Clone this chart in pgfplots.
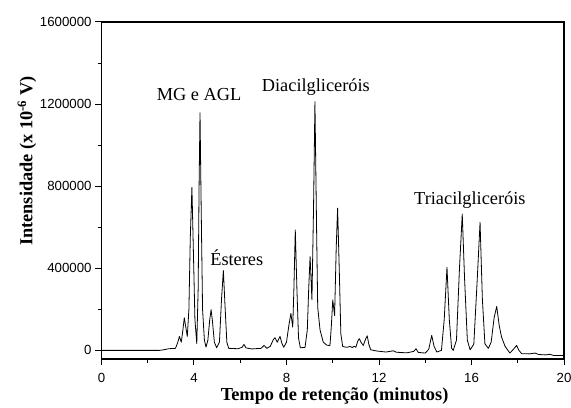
\documentclass[border=0pt]{standalone}
\usepackage{pgfplots}
\pgfplotsset{compat=1.18}
\usepackage{fontspec}
\setmainfont{Liberation Serif}
\newfontfamily\arial{Liberation Sans}
\begin{document}
\begin{tikzpicture}
\useasboundingbox (-101.5bp,-49bp) rectangle (469.5bp,359bp);
\begin{axis}[
  at={(0,0)}, anchor=south west,
  scale only axis, width=462.5bp, height=337bp,
  xmin=0, xmax=20, ymin=-42000, ymax=1600000,
  xtick={0,4,8,12,16,20}, minor xtick={2,6,10,14,18},
  ytick={0,400000,800000,1200000,1600000}, minor ytick={200000,600000,1000000,1400000},
  scaled y ticks=false,
  yticklabel style={/pgf/number format/fixed,/pgf/number format/1000 sep={}},
  xticklabel style={yshift=-4bp},
  xtick pos=bottom, ytick pos=left, tick align=outside,
  major tick length=6bp, minor tick length=3.5bp,
  every axis/.append style={line width=1.3bp},
  every tick/.style={black, line width=1bp},
  /pgf/number format/assume math mode=true,
  ticklabel style={font=\arial\fontsize{13.3}{15}\selectfont},
  xlabel={\textbf{Tempo de retenção (minutos)}},
  ylabel={\textbf{Intensidade (x 10\textsuperscript{-6} V)}},
  label style={font=\fontsize{18.4}{20}\selectfont},
  xlabel style={at={(axis description cs:0.504,-0.11)}, anchor=center},
  ylabel style={at={(axis description cs:-0.161,0.5875)}, anchor=center},
]
\addplot[black, line width=0.8bp, line join=round] coordinates {
(0,0) (2.5,0) (2.7,3000) (2.9,8000) (3.2,10000) (3.3,40000) (3.37,68000) (3.45,40000)
(3.52,100000) (3.58,159000) (3.65,110000) (3.71,68000) (3.78,200000) (3.84,550000)
(3.91,794000) (3.97,500000) (4.04,150000) (4.12,32000) (4.18,300000) (4.22,800000)
(4.26,1158000) (4.31,700000) (4.37,200000) (4.45,50000) (4.52,16000) (4.6,50000)
(4.68,150000) (4.74,198000) (4.8,140000) (4.88,40000) (4.98,13000) (5.1,40000)
(5.19,250000) (5.27,389000) (5.34,220000) (5.42,40000) (5.5,10000) (5.9,8000)
(6.08,15000) (6.16,29000) (6.25,12000) (6.5,7000) (6.9,10000) (7.03,24000) (7.15,10000)
(7.3,20000) (7.42,50000) (7.5,62000) (7.6,40000) (7.72,68000) (7.8,35000) (7.88,15000)
(8.0,40000) (8.1,120000) (8.19,180000) (8.27,113000) (8.32,300000) (8.38,587000)
(8.45,300000) (8.52,60000) (8.6,13000) (8.8,14000) (8.9,100000) (8.96,300000)
(9.02,457000) (9.1,246000) (9.17,700000) (9.23,1212000) (9.3,600000) (9.35,210000)
(9.45,100000) (9.59,40000) (9.75,25000) (9.88,24000) (9.94,120000) (10.0,246000)
(10.08,170000) (10.15,500000) (10.21,693000) (10.28,400000) (10.35,80000) (10.43,19000)
(10.6,15000) (10.75,19000) (10.85,14000) (10.92,20000) (11.0,15000) (11.08,45000)
(11.15,57000) (11.22,40000) (11.32,24000) (11.42,55000) (11.49,71000) (11.56,30000)
(11.64,3000) (11.9,-3000) (12.3,-8000) (12.62,-2000) (12.75,-9000) (13.2,-12000)
(13.5,-5000) (13.6,8000) (13.7,-10000) (14.0,-13000) (14.15,5000) (14.28,73000)
(14.38,20000) (14.5,-8000) (14.7,0) (14.82,150000) (14.94,405000) (15.04,150000)
(15.14,10000) (15.21,0) (15.35,50000) (15.48,400000) (15.6,664000) (15.7,350000)
(15.82,50000) (15.94,3000) (16.1,30000) (16.25,350000) (16.37,624000) (16.47,250000)
(16.58,32000) (16.73,10000) (16.85,40000) (16.98,160000) (17.09,214000) (17.2,120000)
(17.3,65000) (17.45,20000) (17.66,-13000) (17.85,10000) (17.95,24000) (18.05,0)
(18.17,-16000) (18.5,-17000) (18.75,-13000) (18.9,-20000) (19.2,-22000) (19.4,-19000)
(19.55,-25000) (20,-25000)
};
\node[font=\fontsize{18.4}{20}\selectfont] at (axis cs:4.22,1248000) {MG e AGL};
\node[font=\fontsize{18.4}{20}\selectfont] at (axis cs:5.85,450000) {Ésteres};
\node[font=\fontsize{18.4}{20}\selectfont] at (axis cs:9.27,1283000) {Diacilgliceróis};
\node[font=\fontsize{18.4}{20}\selectfont] at (axis cs:15.93,732000) {Triacilgliceróis};
\end{axis}
\end{tikzpicture}
\end{document}
